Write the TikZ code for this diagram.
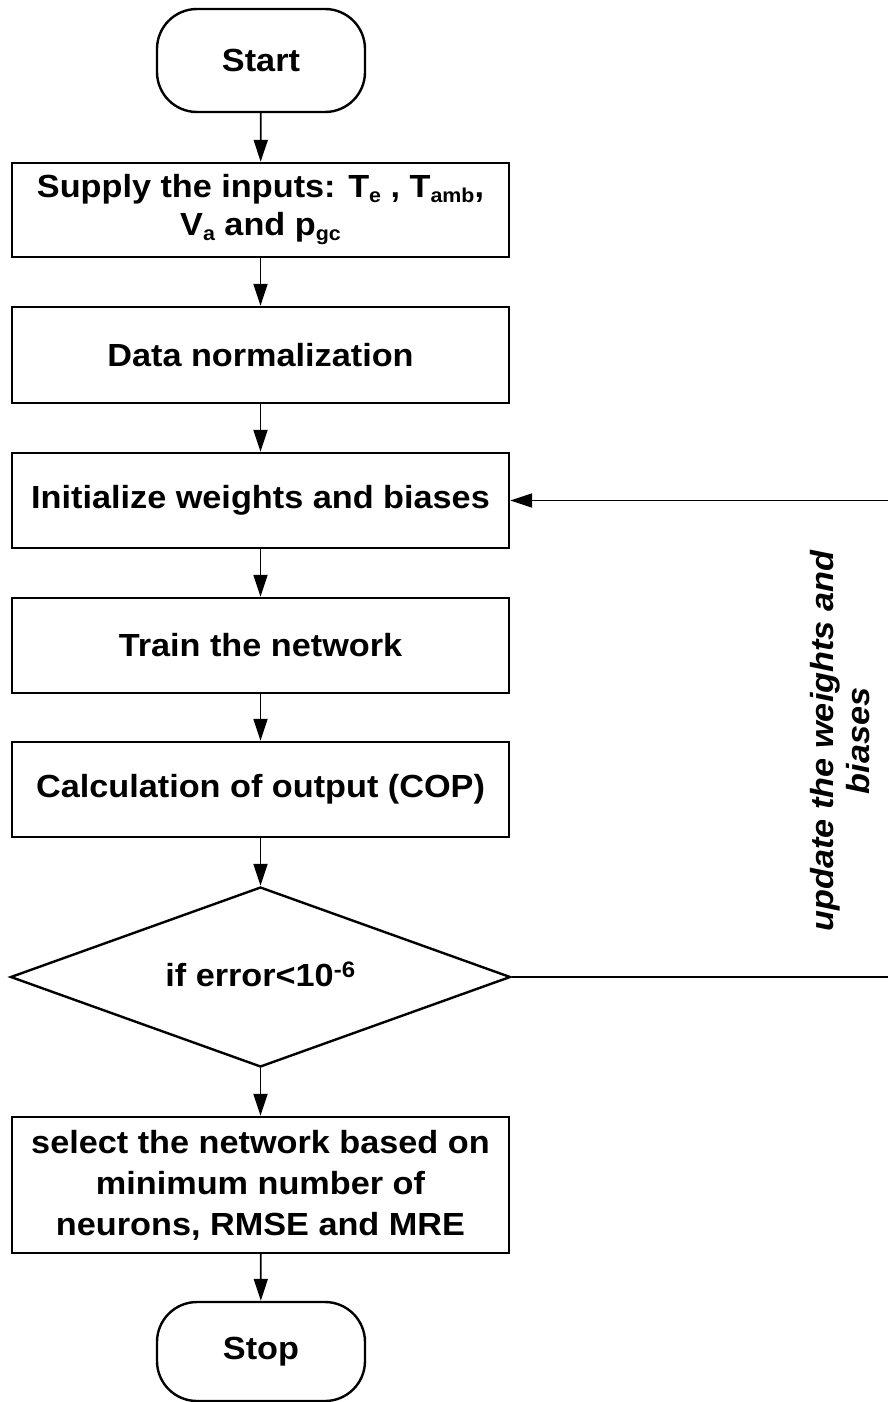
\documentclass[tikz,border=0pt]{standalone}
\usepackage{fontspec}
\setmainfont{Liberation Sans}[FakeStretch=1.07]
\usetikzlibrary{shapes.geometric,arrows.meta}

% lowered index in the input list
\newcommand\lowidx[1]{\raisebox{-5pt}{\fontsize{20}{20}\selectfont #1}}

\tikzset{
  base/.style={draw=black, line width=2.4pt, fill=white, inner sep=0pt,
    align=center, font=\fontsize{32}{41}\selectfont\bfseries},
  procbox/.style={base, rectangle, minimum width=497pt},
  termbox/.style={base, rectangle, rounded corners=40pt, minimum width=208pt},
  decide/.style={base, diamond, aspect=2.77, minimum width=500pt, minimum height=180pt},
  flow/.style={line width=1.8pt, -{Triangle[length=22pt,width=14pt]}},
}

\begin{document}
\begin{tikzpicture}[x=1pt,y=-1pt]
\useasboundingbox[fill=white] (0,0) rectangle (888,1402);

\node[termbox, minimum height=103pt] (start) at (261,60.5) {Start};
\node[procbox, minimum height=94pt] (inputs) at (260.5,210)
  {Supply the inputs: T\lowidx{e} , T\lowidx{amb},\\[-3pt] V\lowidx{a} and p\lowidx{gc}};
\node[procbox, minimum height=96pt] (norm) at (260.5,355) {Data normalization};
\node[procbox, minimum height=95pt] (init) at (260.5,500.5) {Initialize weights and biases};
\node[procbox, minimum height=95pt] (train) at (260.5,645.5) {Train the network};
\node[procbox, minimum height=95pt] (calc) at (260.5,789.5) {Calculation of output (COP)};
\node[decide] (err) at (260.5,977) {\raisebox{5pt}{if error<10\textsuperscript{-6}}};
\node[procbox, minimum height=136pt] (select) at (260.5,1185)
  {select the network based on\\minimum number of\\neurons, RMSE and MRE};
\node[termbox, minimum height=99pt] (stop) at (261,1351.5) {Stop};

\coordinate (loopb) at (896,977);
\coordinate (loopt) at (896,500.5);

\draw[flow] (start) -- (inputs);
\draw[flow] (inputs) -- (norm);
\draw[flow] (norm) -- (init);
\draw[flow] (init) -- (train);
\draw[flow] (train) -- (calc);
\draw[flow] (calc) -- (err);
\draw[flow] (err) -- (select);
\draw[flow] (select) -- (stop);
\draw[flow] (err.east) -- (loopb) -- (loopt) -- (init.east);

\node[rotate=90, align=center, inner sep=0pt,
  font=\fontsize{32}{36}\selectfont\bfseries\itshape] (upd) at (840,741)
  {update the weights and\\biases};
\end{tikzpicture}
\end{document}
